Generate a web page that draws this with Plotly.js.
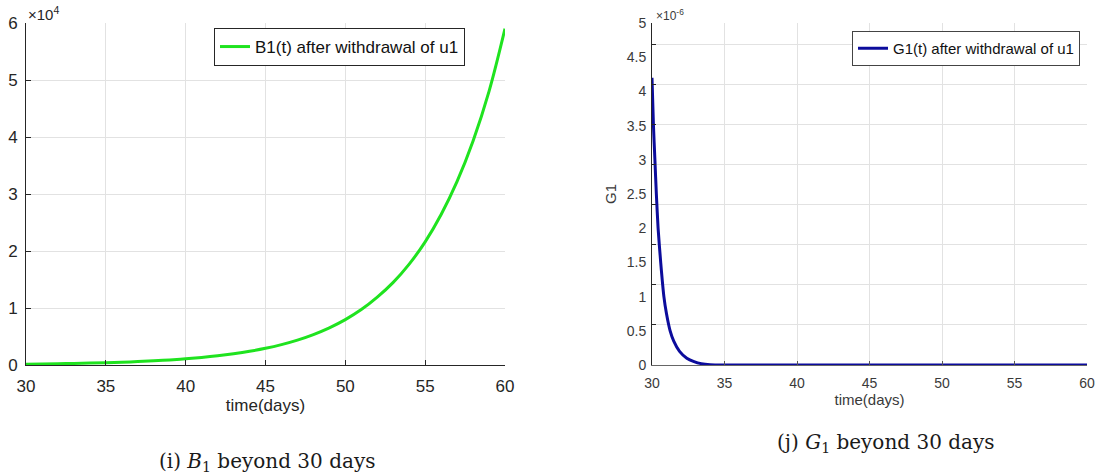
<!DOCTYPE html>
<html><head><meta charset="utf-8">
<script src="https://cdn.plot.ly/plotly-3.0.1.min.js"></script>
<style>html,body{margin:0;padding:0;background:#fff}#chart{width:1098px;height:475px}</style>
</head><body><div id="chart"></div>
<script>
// ---- data ----
const days = [30,31,32,33,34,35,36,37,38,39,40,41,42,43,44,45,46,47,48,49,50,51,52,53,54,55,56,57,58,59,60];
const b1 = [150,180,220,270,330,400,490,600,730,890,1080,1320,1610,1970,2400,2930,3580,4370,5340,6520,7960,9720,11900,14500,17700,21600,26400,32200,39300,48000,59000];

const gDays = [30,30.1,30.2,30.3,30.42,30.6,30.82,31.0,31.25,31.5,31.9,32.4,32.9,33.4,34,35,40,45,50,55,60];
const g1 = [4.2e-6,3.5e-6,3.0e-6,2.5e-6,2.0e-6,1.5e-6,1.0e-6,0.75e-6,0.5e-6,0.35e-6,0.2e-6,0.1e-6,0.05e-6,0.02e-6,0.005e-6,0,0,0,0,0,0];

const xTickLabels = ['30','35','40','45','50','55','60'];
const b1TickLabels = ['0','1','2','3','4','5','6'];
const g1TickLabels = ['0','0.5','1','1.5','2','2.5','3','3.5','4','4.5','5'];
const g1GridLines = [0.585,1.17,1.755,2.34,2.925,3.51,4.095,4.68];

const b1Name = 'B1(t) after withdrawal of u1';
const g1Name = 'G1(t) after withdrawal of u1';

// ---- build ----
const W = 1098, H = 475;
const axisCol = '#262626', gridCol = '#e2e2e2';
const font = 'Liberation Sans, Arial, sans-serif';
const xTickVals = xTickLabels.map(Number);
const yDom = [(H-365)/H, (H-23)/H];

const traces = [
  {x: days, y: b1, type: 'scatter', mode: 'lines', name: b1Name, xaxis: 'x', yaxis: 'y',
   line: {color: '#1fe31f', width: 3, shape: 'spline'}, legend: 'legend'},
  {x: gDays, y: g1, type: 'scatter', mode: 'lines', name: g1Name, xaxis: 'x2', yaxis: 'y2',
   line: {color: '#0c0c9c', width: 3, shape: 'spline', smoothing: 0.6}, legend: 'legend2'}
];

const layout = {
  width: W, height: H,
  margin: {l: 0, r: 0, t: 0, b: 0},
  paper_bgcolor: '#fff', plot_bgcolor: '#fff',
  font: {family: font, color: axisCol},
  showlegend: true,
  xaxis: {domain: [26/W, 505/W], range: [30, 60], anchor: 'y',
    tickvals: xTickVals, ticktext: xTickLabels, ticks: 'inside', ticklen: 5, tickcolor: axisCol,
    ticklabelstandoff: 6,
    showline: true, linecolor: axisCol, linewidth: 1, showgrid: true, gridcolor: gridCol, zeroline: false,
    tickfont: {size: 17, color: axisCol},
    title: {text: 'time(days)', font: {size: 17, color: axisCol}, standoff: 3}},
  yaxis: {domain: yDom, range: [0, 6e4], anchor: 'x',
    tickvals: b1TickLabels.map(v => Number(v) * 1e4), ticktext: b1TickLabels,
    ticks: 'inside', ticklen: 5, tickcolor: axisCol, ticklabelstandoff: 4,
    showline: true, linecolor: axisCol, linewidth: 1, showgrid: true, gridcolor: gridCol, zeroline: false,
    tickfont: {size: 17, color: axisCol}},
  xaxis2: {domain: [652/W, 1087/W], range: [30, 60], anchor: 'y2',
    tickvals: xTickVals, ticktext: xTickLabels, ticks: 'inside', ticklen: 4, tickcolor: '#555',
    ticklabelstandoff: 5,
    showline: true, linecolor: '#666', linewidth: 1, showgrid: true, gridcolor: gridCol, zeroline: false,
    tickfont: {size: 14, color: '#3a3a3a'},
    title: {text: 'time(days)', font: {size: 15, color: '#3a3a3a'}, standoff: 4}},
  yaxis2: {domain: yDom, range: [0, 5e-6], anchor: 'x2',
    tickvals: g1TickLabels.map(v => Number(v) * 1e-6), ticktext: g1TickLabels,
    ticks: '', showline: true, linecolor: axisCol, linewidth: 1, showgrid: false, zeroline: false,
    tickfont: {size: 14, color: '#3a3a3a'}, ticklabelstandoff: 2,
    minor: {tickmode: 'array', tickvals: g1GridLines.map(v => v * 1e-6),
      showgrid: true, gridcolor: gridCol, ticks: 'inside', ticklen: 4, tickcolor: axisCol},
    title: {text: 'G1', font: {size: 15, color: '#3a3a3a'}, standoff: 6}},
  legend: {x: 465/W, xanchor: 'right', y: 1 - 28/H, yanchor: 'top',
    bgcolor: '#fff', bordercolor: axisCol, borderwidth: 1,
    font: {size: 17, color: '#111'}, itemwidth: 30, tracegroupgap: 0},
  legend2: {x: 1080/W, xanchor: 'right', y: 1 - 31/H, yanchor: 'top',
    bgcolor: '#fff', bordercolor: '#444', borderwidth: 1,
    font: {size: 15, color: '#111'}, itemwidth: 30, tracegroupgap: 0},
  annotations: [
    {xref: 'paper', yref: 'paper', x: 26/W, y: 1 - 13/H, xanchor: 'left', yanchor: 'middle',
     text: '×10<sup>4</sup>', showarrow: false, font: {size: 15, color: axisCol}},
    {xref: 'paper', yref: 'paper', x: 654/W, y: 1 - 15/H, xanchor: 'left', yanchor: 'middle',
     text: '×10<sup>-6</sup>', showarrow: false, font: {size: 12, color: '#3a3a3a'}},
    {xref: 'paper', yref: 'paper', x: 267/W, y: 1 - 462/H, xanchor: 'center', yanchor: 'middle',
     text: '(i) <i>B</i><sub>1</sub> beyond 30 days', showarrow: false,
     font: {size: 20, family: 'DejaVu Serif, Liberation Serif, serif', color: '#1a1a1a'}},
    {xref: 'paper', yref: 'paper', x: 886/W, y: 1 - 443/H, xanchor: 'center', yanchor: 'middle',
     text: '(j) <i>G</i><sub>1</sub> beyond 30 days', showarrow: false,
     font: {size: 20, family: 'DejaVu Serif, Liberation Serif, serif', color: '#1a1a1a'}}
  ]
};

Plotly.newPlot('chart', traces, layout, {staticPlot: true, displayModeBar: false});
</script>
</body></html>
